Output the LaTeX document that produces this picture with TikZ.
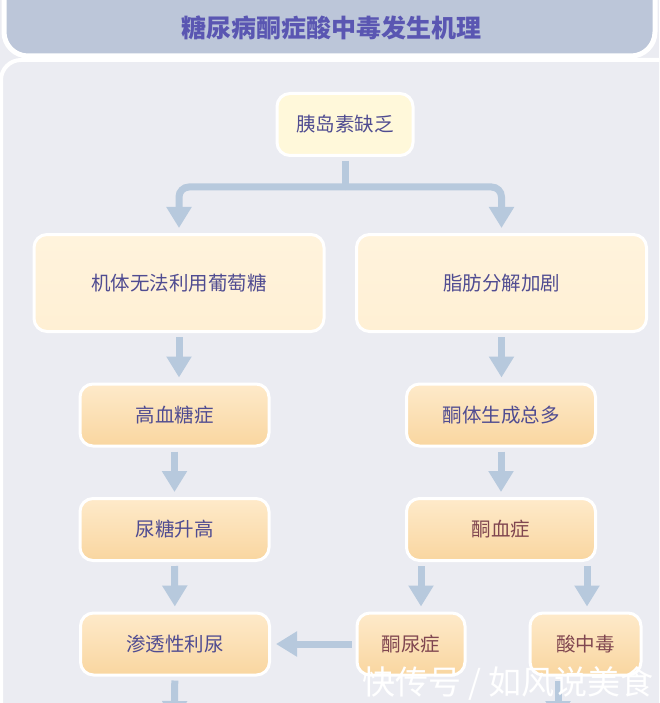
\documentclass[tikz,border=0pt]{standalone}
\usepackage{fontspec}
\newfontfamily\cjk{Noto Sans CJK SC}
\usetikzlibrary{shapes,arrows.meta}
\definecolor{BgGray}{RGB}{235,236,242}
\definecolor{TitleBlue}{RGB}{188,198,217}
\definecolor{TitleInk}{RGB}{90,86,178}
\definecolor{NodeInk}{RGB}{80,76,145}
\definecolor{RedInk}{RGB}{128,70,80}
\definecolor{ArrowBlue}{RGB}{183,201,221}
\definecolor{Cream}{RGB}{255,248,218}
\definecolor{LightPeach}{RGB}{255,240,212}
\definecolor{PeachTop}{RGB}{254,234,202}
\definecolor{PeachBottom}{RGB}{249,214,160}

\begin{document}
\begin{tikzpicture}[x=1pt,y=-1pt]
				\tikzstyle{every node}=[font=\cjk\fontsize{19.5}{20}\selectfont, text=NodeInk, align=center, inner sep=0pt];
				\tikzstyle{box}=[draw=white, line width=3pt, rounded corners=13pt];
				\tikzstyle{topbox}=[box, fill=Cream, minimum width=136pt, minimum height=62pt];
				\tikzstyle{bigbox}=[box, top color=LightPeach!80!white, bottom color=LightPeach, minimum width=290pt, minimum height=97pt];
				\tikzstyle{midbox}=[box, top color=PeachTop, bottom color=PeachBottom, minimum width=189pt, minimum height=62pt];
				\tikzstyle{smallbox}=[midbox, minimum width=108pt];
				\tikzstyle{arr}=[draw=ArrowBlue, line width=7pt, -{Triangle[width=24pt,length=21pt]}, shorten <=4pt, shorten >=5pt];
				\useasboundingbox (0,0) rectangle (659,703);
				\clip (0,0) rectangle (659,703);
				\fill [BgGray] (0,0) rectangle (659,703);
				\draw [white, line width=4pt, fill=BgGray, rounded corners=20pt] (1,60) rectangle (720,760);
				\draw [white, line width=5pt, fill=TitleBlue, rounded corners=24pt] (4,-30) rectangle (655,56);
				\node [font=\cjk\bfseries\fontsize{25}{26}\selectfont, text=TitleInk] (title) at (331,28) {糖尿病酮症酸中毒发生机理};
				\node [topbox] (n0) at (345,124.5) {胰岛素缺乏};
				\node [bigbox] (n11) at (179,283) {机体无法利用葡萄糖};
				\node [bigbox] (n12) at (501.5,283) {脂肪分解加剧};
				\node [midbox] (n21) at (174.5,415) {高血糖症};
				\node [midbox] (n22) at (501,415) {酮体生成总多};
				\node [midbox] (n31) at (174.5,529.5) {尿糖升高};
				\node [midbox, text=RedInk] (n32) at (501,529.5) {酮血症};
				\node [midbox] (n41) at (175,644) {渗透性利尿};
				\node [smallbox, text=RedInk] (n42) at (411,644) {酮尿症};
				\node [smallbox, text=RedInk, minimum width=111pt] (n43) at (585.5,644) {酸中毒};
				\coordinate (split) at (345,187);
				\coordinate (e1) at (174.5,722);
				\coordinate (e2) at (558,722);
				\draw [draw=ArrowBlue, line width=7pt, shorten <=4pt] (n0) -- (split);
				\draw [arr, rounded corners=10pt, shorten <=0pt] (split) -| (n11);
				\draw [arr, rounded corners=10pt, shorten <=0pt] (split) -| (n12);
				\draw [arr] (n11.south) -- (n11.south |- n21.north);
				\draw [arr] (n12.south) -- (n12.south |- n22.north);
				\draw [arr] (n21) -- (n31);
				\draw [arr] (n22) -- (n32);
				\draw [arr] (n31) -- (n41);
				\draw [arr] ([xshift=-80pt]n32.south) -- ([xshift=10pt]n42.north);
				\draw [arr] ([xshift=86pt]n32.south) -- ([xshift=1.5pt]n43.north);
				\draw [arr] (n42) -- (n41);
				\draw [arr, shorten >=0pt] (n41) -- (e1);
				\draw [arr, shorten >=0pt] ([xshift=-27.5pt]n43.south) -- (e2);
				\node [font=\cjk\fontsize{33}{34}\selectfont, text=white] (mark) at (508,683) {快传号 / 如风说美食};
\end{tikzpicture}
\end{document}
